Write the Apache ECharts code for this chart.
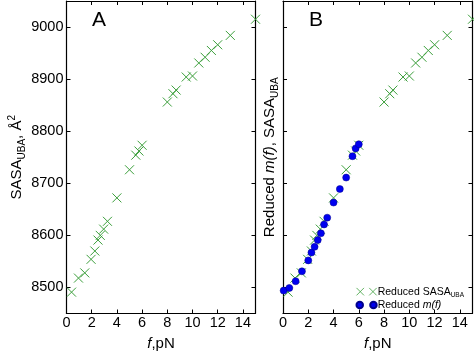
<!DOCTYPE html>
<html><head><meta charset="utf-8">
<script src="https://cdn.jsdelivr.net/npm/echarts@6/dist/echarts.min.js"></script>
<style>html,body{margin:0;padding:0;background:#fff}#c{width:474px;height:356px}</style>
</head><body><div id="c"></div>
<script>
// Data
const sasaF = [0.4, 0.95, 1.45, 1.95, 2.25, 2.5, 2.68, 2.95, 3.25, 4.0, 5.0, 5.5, 5.75, 6.0, 8.0, 8.45, 8.7, 9.5, 10.0, 10.5, 11.0, 11.5, 12.0, 13.0, 15.0];
const sasaV = [8491, 8518, 8528, 8554, 8570, 8591, 8600, 8612, 8627, 8672, 8726, 8754, 8762, 8773, 8856, 8872, 8879, 8904, 8906, 8931, 8942, 8955, 8966, 8984, 9015];
const mF = [0.05, 0.5, 1.0, 1.5, 2.0, 2.25, 2.5, 2.75, 3.0, 3.25, 3.5, 4.0, 4.5, 5.0, 5.5, 5.75, 6.0];
const mV = [8494, 8499, 8512, 8531, 8552, 8567, 8578, 8591, 8604, 8621, 8634, 8663, 8689, 8711, 8752, 8767, 8775];
const xTicks = [0, 2, 4, 6, 8, 10, 12, 14];
const yTicks = [8500, 8600, 8700, 8800, 8900, 9000];
const xRange = [0, 15];
const yRange = [8450, 9050];

const FF = '"Liberation Sans", Arial, Helvetica, sans-serif';
const GREEN = '#3c9f3c';
const BLUE = '#0000f0';
const zip = (a, b) => a.map((v, i) => [v, b[i]]);

const axisLine = {show: true, onZero: false, lineStyle: {color: '#000', width: 1.2}};
const richBase = {
  n: {fontSize: 15, fontFamily: FF, color: '#000', lineHeight: 20},
  i: {fontSize: 15, fontFamily: FF, color: '#000', fontStyle: 'italic', lineHeight: 20},
  s: {fontSize: 10, fontFamily: FF, color: '#000', verticalAlign: 'bottom', lineHeight: 10},
  sup: {fontSize: 10, fontFamily: FF, color: '#000', verticalAlign: 'top', lineHeight: 10}
};

function xAxes(g) {
  return [{
    type: 'value', gridIndex: g, min: xRange[0], max: xRange[1], position: 'bottom',
    axisLine, splitLine: {show: false},
    axisTick: {show: true, inside: true, length: 4, customValues: xTicks, lineStyle: {color: '#000', width: 1}},
    axisLabel: {show: true, customValues: xTicks, margin: 2, color: '#000', fontSize: 14.5, fontFamily: FF,
      formatter: v => String(v)},
    name: '{i|f}{n|,pN}', nameLocation: 'middle', nameGap: 20,
    nameTextStyle: {rich: richBase, fontSize: 15, fontFamily: FF, color: '#000'}
  }, {
    type: 'value', gridIndex: g, min: xRange[0], max: xRange[1], position: 'top',
    axisLine, splitLine: {show: false},
    axisTick: {show: true, inside: true, length: 4, customValues: xTicks, lineStyle: {color: '#000', width: 1}},
    axisLabel: {show: false}
  }];
}
function yAxes(g, showLabels, name, gap) {
  return [{
    type: 'value', gridIndex: g, min: yRange[0], max: yRange[1], position: 'left',
    axisLine, splitLine: {show: false},
    axisTick: {show: true, inside: true, length: 4, customValues: yTicks, lineStyle: {color: '#000', width: 1}},
    axisLabel: {show: showLabels, customValues: yTicks, margin: 3, color: '#000', fontSize: 14.5, fontFamily: FF,
      formatter: v => String(v)},
    name, nameLocation: 'middle', nameGap: gap, nameRotate: 90,
    nameTextStyle: {rich: richBase, fontSize: 15, fontFamily: FF, color: '#000'}
  }, {
    type: 'value', gridIndex: g, min: yRange[0], max: yRange[1], position: 'right',
    axisLine, splitLine: {show: false},
    axisTick: {show: true, inside: true, length: 4, customValues: yTicks, lineStyle: {color: '#000', width: 1}},
    axisLabel: {show: false}
  }];
}

const crossSymbol = 'path://M0,0L10,10M0,10L10,0';
const crossIcon = 'path://M0,0L7.5,7.5M0,7.5L7.5,0M12.7,0L20.2,7.5M12.7,7.5L20.2,0';
const dotIcon = 'path://M0.5,3.5a3,3 0 1,0 6,0a3,3 0 1,0 -6,0M13.2,3.5a3,3 0 1,0 6,0a3,3 0 1,0 -6,0';
const crossStyle = {color: 'transparent', borderColor: GREEN, borderWidth: 1, opacity: 1};
const dotStyle = {color: BLUE, borderColor: '#00008b', borderWidth: 0.5, opacity: 1};

const chart = echarts.init(document.getElementById('c'), null, {renderer: 'canvas'});
chart.setOption({
  animation: false,
  backgroundColor: '#fff',
  title: [
    {text: 'A', left: 92, top: 10, padding: 0, textStyle: {fontSize: 21, fontWeight: 'normal', color: '#000', fontFamily: FF}},
    {text: 'B', left: 309, top: 10, padding: 0, textStyle: {fontSize: 21, fontWeight: 'normal', color: '#000', fontFamily: FF}}
  ],
  grid: [
    {left: 66.5, top: 1, width: 189, height: 319},
    {left: 283, top: 1, width: 189.5, height: 319}
  ],
  xAxis: [...xAxes(0), ...xAxes(1)],
  yAxis: [...yAxes(0, true, '{n|SASA}{s|UBA}{n|, Å}{sup|2}', 34), ...yAxes(1, false, '{n|Reduced }{i|m(f)}{n|, SASA}{s|UBA}', 3)],
  legend: {
    data: [{name: 'Reduced SASA', icon: crossIcon, itemStyle: {borderWidth: 0.8}}, {name: 'Reduced m', icon: dotIcon}],
    orient: 'vertical', left: 355.5, top: 285, itemWidth: 20.2, itemHeight: 7.5, itemGap: 0, padding: 0,
    selectedMode: false,
    formatter: n => n === 'Reduced SASA' ? '{n|Reduced SASA}{s|UBA}' : '{n|Reduced }{i|m(f)}',
    textStyle: {fontSize: 10.5, lineHeight: 13.3, color: '#000', fontFamily: FF, padding: [0, 0, 0, -4],
      rich: {
        n: {fontSize: 10.5, fontFamily: FF, color: '#000', lineHeight: 13.3},
        i: {fontSize: 10.5, fontFamily: FF, color: '#000', fontStyle: 'italic', lineHeight: 13.3},
        s: {fontSize: 6.5, fontFamily: FF, color: '#000', verticalAlign: 'bottom', lineHeight: 7}
      }}
  },
  series: [
    {name: 'SASA A', type: 'scatter', xAxisIndex: 0, yAxisIndex: 0, data: zip(sasaF, sasaV),
      symbol: crossSymbol, symbolSize: 9, itemStyle: crossStyle, clip: false},
    {name: 'Reduced SASA', type: 'scatter', xAxisIndex: 2, yAxisIndex: 2, data: zip(sasaF, sasaV),
      symbol: crossSymbol, symbolSize: 9, itemStyle: crossStyle, clip: false},
    {name: 'Reduced m', type: 'scatter', xAxisIndex: 2, yAxisIndex: 2, data: zip(mF, mV),
      symbol: 'circle', symbolSize: 7, itemStyle: dotStyle, clip: false}
  ]
});
</script></body></html>
